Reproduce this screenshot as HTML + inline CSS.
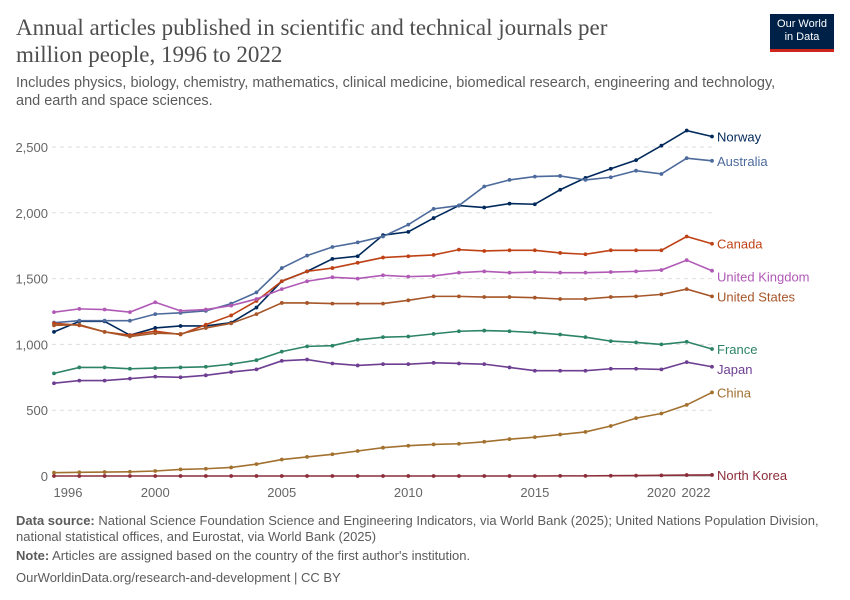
<!DOCTYPE html>
<html><head><meta charset="utf-8"><style>
body{margin:0;background:#fff;font-family:"Liberation Sans",sans-serif}
#wrap{position:relative;width:850px;height:600px;overflow:hidden}
.t{position:absolute;margin:0}
</style></head><body><div id="wrap">
<div class="t" style="left:16px;top:14px;font-family:'Liberation Serif',serif;font-size:23px;line-height:27px;color:#4e4e4e;width:650px">Annual articles published in scientific and technical journals per million people, 1996 to 2022</div>
<div class="t" style="left:770px;top:14px;width:64px;height:38px;background:#002147;border-bottom:3px solid #ce261e;color:#fff;font-size:11px;line-height:13px;text-align:center;padding-top:4px;box-sizing:border-box">Our World<br>in Data</div>
<div class="t" style="left:16px;top:74px;font-size:14.5px;line-height:18px;color:#5b5b5b;width:780px">Includes physics, biology, chemistry, mathematics, clinical medicine, biomedical research, engineering and technology, and earth and space sciences.</div>
<svg id="chart" width="850" height="600" style="position:absolute;left:0;top:0"></svg>
<div class="t" style="left:16px;top:513px;font-size:13px;line-height:16px;color:#5b5b5b;width:810px"><b>Data source:</b> National Science Foundation Science and Engineering Indicators, via World Bank (2025); United Nations Population Division, national statistical offices, and Eurostat, via World Bank (2025)</div>
<div class="t" style="left:16px;top:548px;font-size:13px;color:#5b5b5b"><b>Note:</b> Articles are assigned based on the country of the first author's institution.</div>
<div class="t" style="left:16px;top:570px;font-size:13px;color:#5b5b5b">OurWorldinData.org/research-and-development | CC BY</div>
</div>
<script>
const years=[1996,1997,1998,1999,2000,2001,2002,2003,2004,2005,2006,2007,2008,2009,2010,2011,2012,2013,2014,2015,2016,2017,2018,2019,2020,2021,2022];
const yTicks=[0,500,1000,1500,2000,2500];
const xTicks=[1996,2000,2005,2010,2015,2020,2022];
const norway=[1095,1175,1175,1070,1125,1140,1140,1165,1280,1480,1555,1650,1670,1830,1855,1960,2055,2040,2070,2065,2175,2265,2335,2400,2510,2625,2580];
const australia=[1165,1180,1180,1180,1230,1240,1255,1310,1395,1580,1675,1740,1775,1820,1910,2030,2055,2200,2250,2275,2280,2250,2270,2320,2295,2415,2395];
const canada=[1160,1145,1095,1070,1100,1075,1150,1220,1330,1480,1555,1580,1620,1660,1670,1680,1720,1710,1715,1715,1695,1685,1715,1715,1715,1820,1765];
const uk=[1245,1270,1265,1245,1320,1255,1265,1295,1345,1420,1480,1510,1500,1525,1515,1520,1545,1555,1545,1550,1545,1545,1550,1555,1565,1640,1560];
const us=[1145,1150,1095,1060,1085,1080,1125,1160,1230,1315,1315,1310,1310,1310,1335,1365,1365,1360,1360,1355,1345,1345,1360,1365,1380,1420,1365];
const france=[780,825,825,815,820,825,830,850,880,945,985,990,1035,1055,1060,1080,1100,1105,1100,1090,1075,1055,1025,1015,1000,1020,965];
const japan=[705,725,725,740,755,750,765,790,810,875,885,855,840,850,850,860,855,850,825,800,800,800,815,815,810,865,830];
const china=[25,28,30,32,38,50,55,65,90,125,145,165,190,215,230,240,245,260,280,295,315,335,380,440,475,540,635];
const northKorea=[0,0,0,0,0,0,0,0,0,0,0,0,0,0,0,0,0,0,0,0,1,1,2,3,5,7,8];
const series=[
 {name:"Norway",v:norway,c:"#00295b",ly:0},
 {name:"Australia",v:australia,c:"#4c6a9c",ly:0},
 {name:"Canada",v:canada,c:"#be4215",ly:0},
 {name:"United Kingdom",v:uk,c:"#b05ab6",ly:6},
 {name:"United States",v:us,c:"#a65628",ly:0},
 {name:"France",v:france,c:"#2c8465",ly:0},
 {name:"Japan",v:japan,c:"#6d3e91",ly:2},
 {name:"China",v:china,c:"#a2712f",ly:0},
 {name:"North Korea",v:northKorea,c:"#8c2e3a",ly:0}];
const NS="http://www.w3.org/2000/svg";
const svg=document.getElementById('chart');
const x=yr=>54+(yr-1996)*(712-54)/26;
const y=v=>476-v*(476-147)/2500;
function mk(t,a){const e=document.createElementNS(NS,t);for(const k in a)e.setAttribute(k,a[k]);svg.appendChild(e);return e;}
yTicks.forEach(t=>{
 const g=mk('line',{x1:52,x2:712,y1:y(t),y2:y(t),stroke:t?'#ddd':'#999','stroke-dasharray':t?'4,4':'none'});
 
 
 const l=mk('text',{x:48,y:y(t)+5,'text-anchor':'end','font-size':13,fill:'#666','font-family':'Liberation Sans'});
 l.textContent=t.toLocaleString('en-US');
 
 
});
xTicks.forEach(t=>{
 let px=x(t);if(t===1996)px=68;if(t===2022)px=696;
 const l=mk('text',{x:px,y:497,'text-anchor':'middle','font-size':13,fill:'#666','font-family':'Liberation Sans'});
 l.textContent=t;
 
 
});
series.forEach(s=>{
 const p=mk('polyline',{points:s.v.map((v,i)=>x(years[i])+','+y(v)).join(' '),fill:'none',stroke:s.c,'stroke-width':1.6});
 
 
 s.v.forEach((v,i)=>{
  const c=mk('circle',{cx:x(years[i]),cy:y(v),r:1.9,fill:s.c});
  
  
 });
 const last=s.v[s.v.length-1];
 const l=mk('text',{x:717,y:y(last)+5+s.ly,'font-size':13,fill:s.c,'font-family':'Liberation Sans'});
 l.textContent=s.name;
 
 
});
</script></body></html>
